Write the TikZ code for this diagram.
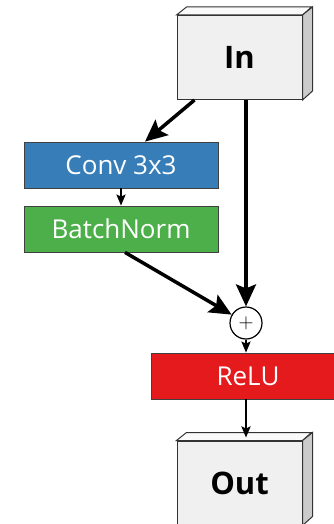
\documentclass[tikz,border=0pt]{standalone}
\usepackage{fontspec}
\setmainfont{Open Sans}
\usetikzlibrary{arrows.meta}

\definecolor{convblue}{HTML}{377EB8}
\definecolor{bngreen}{HTML}{4DAF4A}
\definecolor{relured}{HTML}{E41A1C}
\definecolor{facefront}{HTML}{F0F0F0}
\definecolor{faceside}{HTML}{CBCBCB}
\definecolor{facetop}{HTML}{FAFAFA}

\tikzset{
    layer/.style={draw=black!75, line width=0.8pt, inner sep=0pt,
        minimum width=194pt, minimum height=46pt, text=white,
        font=\fontsize{26}{30}\selectfont},
    cube/.style={draw=black!80, line width=1pt, fill=facefront, inner sep=0pt,
        minimum width=125pt, minimum height=84pt,
        font=\fontsize{31}{36}\selectfont\bfseries},
    bigarrow/.style={line width=3.5pt, -{Stealth[length=22pt,width=20pt,inset=4pt]}},
    smallarrow/.style={line width=2.2pt, -{Stealth[length=11pt,width=9pt,inset=2pt]}}
}

\begin{document}
\begin{tikzpicture}[x=1pt, y=-1pt]
                    \fill[white] (0,0) rectangle (333,524);
                    \useasboundingbox (0,0) rectangle (333,524);
                    % input and output blocks
                    \node[cube] (in) at (239.5, 57.5) {In};
                    \node[cube] (out) at (239.5, 483) {Out};
                    \foreach \b in {in, out}
                    {
                        \draw[line width=1pt, draw=black!80, fill=facetop]
                            (\b.north west) -- ++(10,-8) -- ++(125,0) -- (\b.north east) -- cycle;
                        \draw[line width=1pt, draw=black!80, fill=faceside]
                            (\b.north east) -- ++(10,-8) -- ++(0,84) -- (\b.south east) -- cycle;
                    }
                    % layers
                    \node[layer, fill=convblue] (conv) at (121, 165) {Conv 3x3};
                    \node[layer, fill=bngreen] (bn) at (121, 229) {BatchNorm};
                    \node[draw, circle, line width=1.2pt, minimum size=32pt, inner sep=0pt,
                        fill=white, font=\fontsize{20}{20}\selectfont] (add) at (246, 323) {$+$};
                    \node[layer, fill=relured] (relu) at (248, 376) {ReLU};
                    % connections
                    \draw[bigarrow] ([xshift=18pt]in.south west) -- ([xshift=24pt]conv.north);
                    \draw[bigarrow] (add |- in.south) -- (add.north);
                    \draw[smallarrow] (conv.south) -- (bn.north);
                    \draw[bigarrow] ([xshift=4pt]bn.south) -- (add);
                    \draw[smallarrow] (add.south) -- (add |- relu.north);
                    \draw[smallarrow] (add |- relu.south) -- ([yshift=3pt]add |- out.north);
                \end{tikzpicture}
\end{document}
